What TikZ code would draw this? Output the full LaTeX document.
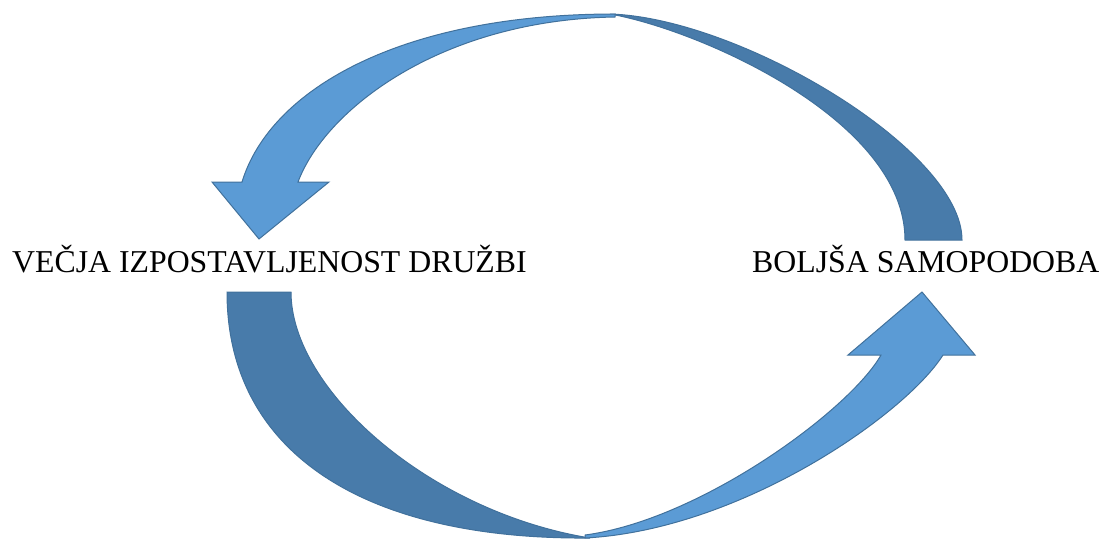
\documentclass[tikz,border=0pt]{standalone}
\usepackage{fontspec}
\setmainfont{Liberation Serif}
\usetikzlibrary{positioning}
\definecolor{front}{HTML}{5B9BD5}
\definecolor{back}{HTML}{487BAA}
\definecolor{rim}{HTML}{41719C}
\tikzset{
    %Define style for the labels
    label text/.style={
           inner sep=0pt,
           anchor=base west,
           font=\fontsize{31.8}{38}\selectfont},
    % Define styles for the two faces of the arrows
    front face/.style={
           fill=front,
           draw=rim,
           line width=1pt,
           line join=miter},
    back face/.style={
           fill=back,
           draw=rim,
           line width=1pt}
}
\begin{document}
\begin{tikzpicture}[x=1pt,y=-1pt]
\useasboundingbox (0,0) rectangle (1103,541);
% upper arrow, back part
\path[back face] (962,240) .. controls (962,150) and (740,18) .. (610,14)
    .. controls (700,30) and (905,120) .. (905,240) -- cycle;
% upper arrow, front part
\path[front face] (615,14) .. controls (400,14) and (270,90) .. (242,182)
    -- (212,182) -- (259,239) -- (329,182) -- (298,182)
    .. controls (325,110) and (440,20) .. (615,17) -- cycle;
% lower arrow, back part
\path[back face] (227,292) .. controls (227,450) and (360,540) .. (590,538)
    .. controls (430,512) and (291,390) .. (291,292) -- cycle;
% lower arrow, front part
\path[front face] (585,538) .. controls (740,530) and (905,415) .. (943,355)
    -- (975,355) -- (922,292) -- (848,355) -- (881,355)
    .. controls (850,410) and (700,520) .. (585,535) -- cycle;
% labels
\node[label text] (exposure) at (12,272) {VEČJA IZPOSTAVLJENOST DRUŽBI};
\node[label text] (selfimage) at (752,272) {BOLJŠA SAMOPODOBA};
\end{tikzpicture}
\end{document}
